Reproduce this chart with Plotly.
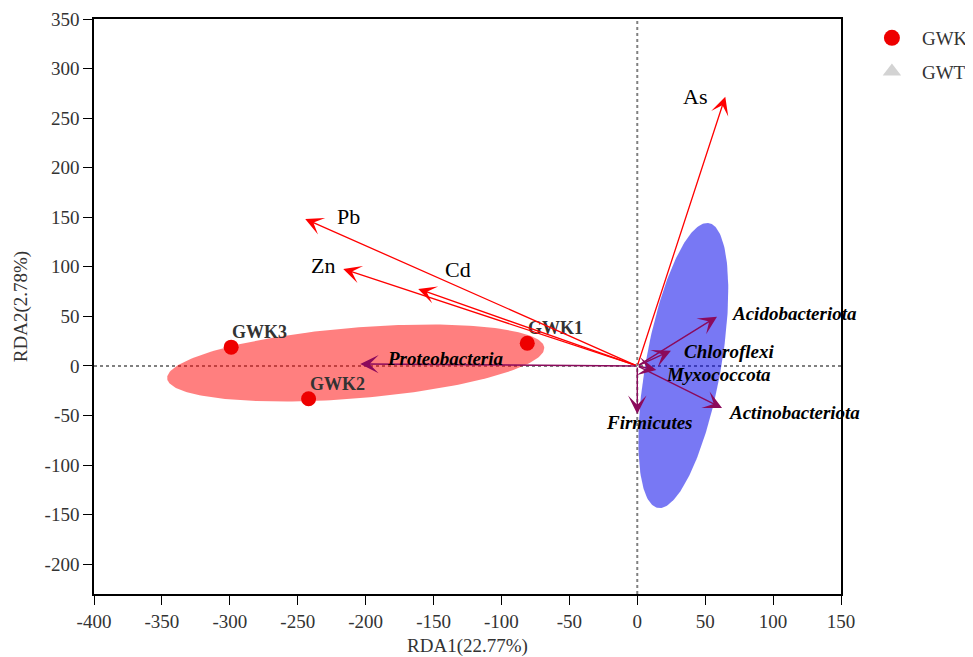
import numpy as np
import plotly.graph_objects as go

# ---------------- data ----------------
env_names = ["As", "Pb", "Zn", "Cd"]
env_x = [64.8, -244.5, -216.5, -161.3]
env_y = [271.7, 148.3, 97.9, 77.7]

taxa_names = ["Acidobacteriota", "Chloroflexi", "Myxococcota", "Actinobacteriota", "Firmicutes", "Proteobacteria"]
taxa_x = [58.7, 24.8, 14.0, 62.4, 0.0, -204.0]
taxa_y = [49.7, 15.4, -4.0, -42.4, -48.5, 2.0]

sample_names = ["GWK1", "GWK2", "GWK3"]
sample_x = [-81.0, -242.0, -299.0]
sample_y = [23.0, -33.0, 19.0]

groups = ["GWK", "GWT"]
ell_cx = [-207.3, 33.9]
ell_cy = [3.0, 0.5]
ell_a = [139.7, 144.9]
ell_b = [35.6, 27.9]
ell_angle = [6.6, 82.8]

x_ticks = [-400, -350, -300, -250, -200, -150, -100, -50, 0, 50, 100, 150]
x_tick_labels = ["-400", "-350", "-300", "-250", "-200", "-150", "-100", "-50", "0", "50", "100", "150"]
y_ticks = [-200, -150, -100, -50, 0, 50, 100, 150, 200, 250, 300, 350]
y_tick_labels = ["-200", "-150", "-100", "-50", "0", "50", "100", "150", "200", "250", "300", "350"]

# ---------------- styles ----------------
FONT = "Liberation Serif"
RED = "#FF0000"
PURPLE = "#8B0A5C"
ell_fill = ["rgba(255,0,0,0.5)", "rgba(0,0,235,0.53)"]
legend_colors = ["#EE0000", "#D3D3D3"]
legend_symbols = ["circle", "triangle-up"]

fig = go.Figure()

# ellipses
t = np.linspace(0, 2 * np.pi, 240)
for g, cx, cy, a, b, ang, col in zip(groups, ell_cx, ell_cy, ell_a, ell_b, ell_angle, ell_fill):
    th = np.deg2rad(ang)
    ex = cx + a * np.cos(t) * np.cos(th) - b * np.sin(t) * np.sin(th)
    ey = cy + a * np.cos(t) * np.sin(th) + b * np.sin(t) * np.cos(th)
    fig.add_trace(go.Scatter(x=ex, y=ey, mode="lines", fill="toself", fillcolor=col,
                             line=dict(width=0), hoverinfo="skip", showlegend=False))

# sample points
fig.add_trace(go.Scatter(x=sample_x, y=sample_y, mode="markers",
                         marker=dict(size=15, color="#EE0000"),
                         showlegend=False, hovertext=sample_names))

# legend entries
for i, (g, c, s) in enumerate(zip(groups, legend_colors, legend_symbols)):
    fig.add_trace(go.Scatter(x=[None], y=[None], mode="markers", name=g, legendgroup=g,
                             marker=dict(size=22, color=c, symbol=s)))

# sample labels
for n, x, y in zip(sample_names, sample_x, sample_y):
    fig.add_annotation(x=x, y=y, text="<b>" + n + "</b>", showarrow=False, xanchor="left",
                       yanchor="middle", yshift=15, xshift=-1,
                       font=dict(family=FONT, size=18, color="#333333"))

# environmental arrows
env_label_anchor = ["right", "left", "right", "left"]
env_label_shift = [(-16, 0), (30, 2), (-6, 3), (25, 19)]
for n, x, y, anc, (dx, dy) in zip(env_names, env_x, env_y, env_label_anchor, env_label_shift):
    fig.add_annotation(x=x, y=y, ax=0, ay=0, axref="x", ayref="y", xref="x", yref="y",
                       text="", showarrow=True, arrowhead=3, arrowsize=2.3, arrowwidth=1.3,
                       arrowcolor=RED)
    fig.add_annotation(x=x, y=y, text=n, showarrow=False, xanchor=anc, yanchor="middle",
                       xshift=dx, yshift=dy, font=dict(family=FONT, size=22, color="black"))

# taxa arrows
taxa_label_anchor = ["left", "left", "left", "left", "center", "left"]
taxa_label_shift = [(13, 3), (11, -1), (8, -5), (5, -4), (12, -8), (25, 6)]
for n, x, y, anc, (dx, dy) in zip(taxa_names, taxa_x, taxa_y, taxa_label_anchor, taxa_label_shift):
    fig.add_annotation(x=x, y=y, ax=0, ay=0, axref="x", ayref="y", xref="x", yref="y",
                       text="", showarrow=True, arrowhead=3, arrowsize=2.2, arrowwidth=1.4,
                       arrowcolor=PURPLE)
    fig.add_annotation(x=x, y=y, text="<b><i>" + n + "</i></b>", showarrow=False, xanchor=anc,
                       yanchor="middle", xshift=dx, yshift=dy,
                       font=dict(family=FONT, size=19, color="black"))

# dashed zero lines
fig.add_shape(type="line", xref="x", yref="paper", x0=0, x1=0, y0=0, y1=1, layer="below",
              line=dict(color="#808080", width=2, dash="3px,3px"))
fig.add_shape(type="line", xref="paper", yref="y", x0=0, x1=1, y0=0, y1=0, layer="below",
              line=dict(color="#808080", width=2, dash="3px,3px"))

axis_common = dict(showgrid=False, zeroline=False, showline=True, linecolor="black", linewidth=1.5,
                   mirror=True, ticks="outside", ticklen=9, tickwidth=1.3, tickcolor="black",
                   automargin=False,
                   tickfont=dict(family=FONT, size=19, color="#333333"))

# the page body adds an 8px offset, so the figure is sized to fit the 973x657 window
fig.update_layout(
    width=965, height=649,
    margin=dict(l=86, r=132, t=11, b=63, autoexpand=False),
    plot_bgcolor="white", paper_bgcolor="white",
    xaxis=dict(range=[-400, 150], tickvals=x_ticks, ticktext=x_tick_labels, **axis_common,
               title=dict(text="RDA1(22.77%)", font=dict(family=FONT, size=19, color="#333333"),
                          standoff=10)),
    yaxis=dict(range=[-230, 350], tickvals=y_ticks, ticktext=y_tick_labels, **axis_common,
               title=dict(text="RDA2(2.78%)", font=dict(family=FONT, size=19, color="#333333"),
                          standoff=12)),
    legend=dict(x=1.028, y=1.0, xanchor="left", yanchor="top", itemwidth=50,
                traceorder="grouped", tracegroupgap=6,
                font=dict(family=FONT, size=19, color="#333333"), bgcolor="rgba(0,0,0,0)"),
    showlegend=True,
)

fig.write_html("out.html")
